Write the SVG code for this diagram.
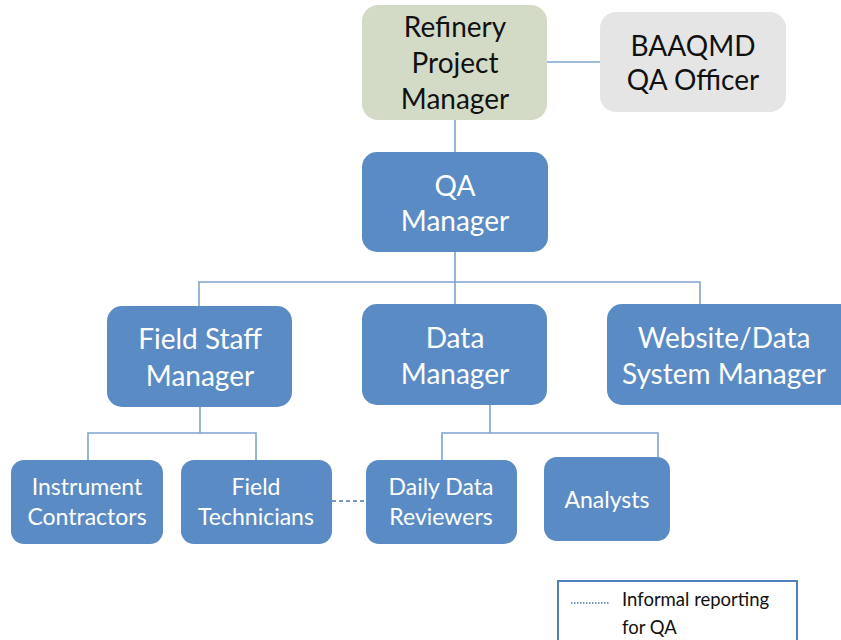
<svg xmlns="http://www.w3.org/2000/svg" width="841" height="640" viewBox="0 0 841 640">
<style>
.box{fill:#5b8bc4;stroke:none}
.t{font-family:Lato,"Open Sans","Liberation Sans",sans-serif;text-anchor:middle;fill:#fff}
.big{font-size:28px}
.sm{font-size:23px}
.dark{fill:#111}
.conn{stroke:#7ea4d3;stroke-width:1.6;fill:none}
.leg{font-family:Lato,"Open Sans","Liberation Sans",sans-serif;font-size:18.5px;fill:#111}
</style>
<rect width="841" height="640" fill="#fff"/>
<g id="connectors">
<path class="conn" d="M547,62H600"/>
<path class="conn" d="M455,120V152"/>
<path class="conn" d="M455,252V282M199,306V282H700V305M455,282V305"/>
<path class="conn" d="M200,407V433M88,460V433H256V460"/>
<path class="conn" d="M490,405V433M442,460V433H658V457"/>
<path d="M332,501H366" stroke="#4a78b8" stroke-width="1.6" stroke-dasharray="4,3" fill="none"/>
</g>
<g id="refinery">
<rect x="362" y="5" width="185" height="115" rx="16" fill="#d3dbc6"/>
<text class="t big dark" x="455" y="37">Refinery</text>
<text class="t big dark" x="455" y="73">Project</text>
<text class="t big dark" x="455" y="109">Manager</text>
</g>
<g id="baaqmd">
<rect x="600" y="12" width="186" height="100" rx="16" fill="#e5e5e5"/>
<text class="t big dark" x="693" y="56">BAAQMD</text>
<text class="t big dark" x="693" y="90">QA Officer</text>
</g>
<g id="qa">
<rect class="box" x="362" y="152" width="186" height="100" rx="15"/>
<text class="t big" x="455" y="196">QA</text>
<text class="t big" x="455" y="231">Manager</text>
</g>
<g id="field-staff">
<rect class="box" x="107" y="306" width="185" height="101" rx="15"/>
<text class="t big" x="200" y="349">Field Staff</text>
<text class="t big" x="200" y="386">Manager</text>
</g>
<g id="data-manager">
<rect class="box" x="362" y="304" width="185" height="101" rx="15"/>
<text class="t big" x="455" y="348">Data</text>
<text class="t big" x="455" y="384">Manager</text>
</g>
<g id="website">
<rect class="box" x="607" y="304" width="250" height="101" rx="15"/>
<text class="t big" x="724" y="348">Website/Data</text>
<text class="t big" x="724" y="384">System Manager</text>
</g>
<g id="instrument">
<rect class="box" x="11" y="460" width="152" height="84" rx="13"/>
<text class="t sm" x="87" y="495">Instrument</text>
<text class="t sm" x="87" y="525">Contractors</text>
</g>
<g id="field-tech">
<rect class="box" x="181" y="460" width="151" height="84" rx="13"/>
<text class="t sm" x="256" y="495">Field</text>
<text class="t sm" x="256" y="525">Technicians</text>
</g>
<g id="daily">
<rect class="box" x="366" y="460" width="151" height="84" rx="13"/>
<text class="t sm" x="441" y="495">Daily Data</text>
<text class="t sm" x="441" y="525">Reviewers</text>
</g>
<g id="analysts">
<rect class="box" x="544" y="457" width="126" height="84" rx="13"/>
<text class="t sm" x="607" y="508">Analysts</text>
</g>
<g id="legend">
<rect x="558" y="581" width="239" height="70" fill="#fff" stroke="#4f81bd" stroke-width="2"/>
<path d="M571,603H610" stroke="#4a78b8" stroke-width="1.5" stroke-dasharray="1.5,1.5"/>
<text class="leg" x="622" y="606">Informal reporting</text>
<text class="leg" x="622" y="634">for QA</text>
</g>
</svg>
